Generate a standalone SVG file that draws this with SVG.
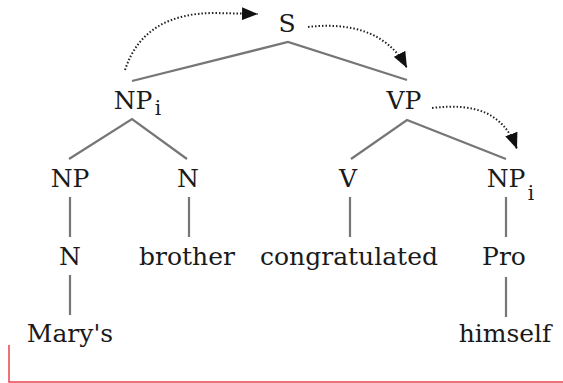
<svg xmlns="http://www.w3.org/2000/svg" width="563" height="383" viewBox="0 0 563 383">
<style>
.t{font-family:"DejaVu Serif","Liberation Serif",serif;font-size:25px;fill:#1a1a1a;text-anchor:middle}
.s{font-family:"DejaVu Serif","Liberation Serif",serif;font-size:20px;fill:#1a1a1a;text-anchor:middle}
.e{stroke:#767676;stroke-width:2.2;fill:none}
.d{stroke:#222;stroke-width:2;stroke-dasharray:1.5 2;fill:none;marker-end:url(#ah)}
</style>
<defs>
<marker id="ah" markerUnits="userSpaceOnUse" markerWidth="16" markerHeight="13" refX="16" refY="6.5" orient="auto">
<path d="M0,0 L16,6.5 L0,13 z" fill="#111"/>
</marker>
</defs>
<rect width="563" height="383" fill="#fff"/>
<g id="connectors">
<path class="e" d="M132,81 L288,42 L407,80"/>
<path class="e" d="M69,159 L132,119 L187,159"/>
<path class="e" d="M351,159 L407,120 L506,159"/>
<path class="e" d="M70,197 V237 M189,197 V237 M350,197 V237 M506,197 V237 M70,275 V315 M506,277 V317"/>
<path class="d" d="M125,70 C138,30 170,13 215,13 L258,14"/>
<path class="d" d="M308,27 C350,22 388,32 407,68"/>
<path class="d" d="M432,108 C475,103 503,112 517,149"/>
</g>
<g id="S"><text class="t" x="287" y="32">S</text></g>
<g id="NPi-left"><text class="t" x="133" y="109">NP</text><text class="s" x="158" y="115">i</text></g>
<g id="VP"><text class="t" x="404" y="109">VP</text></g>
<g id="NP"><text class="t" x="70" y="187">NP</text></g>
<g id="N1"><text class="t" x="188" y="187">N</text></g>
<g id="V"><text class="t" x="348" y="187">V</text></g>
<g id="NPi-right"><text class="t" x="506" y="187">NP</text><text class="s" x="531" y="200">i</text></g>
<g id="N2"><text class="t" x="70" y="265">N</text></g>
<g id="brother"><text class="t" x="187" y="265">brother</text></g>
<g id="congratulated"><text class="t" x="349" y="265">congratulated</text></g>
<g id="Pro"><text class="t" x="504" y="265">Pro</text></g>
<g id="Marys"><text class="t" x="70" y="342">Mary's</text></g>
<g id="himself"><text class="t" x="505" y="342">himself</text></g>
<polyline points="9,345 9,382 563,382" fill="none" stroke="#e8434a" stroke-width="1.5"/>
</svg>
